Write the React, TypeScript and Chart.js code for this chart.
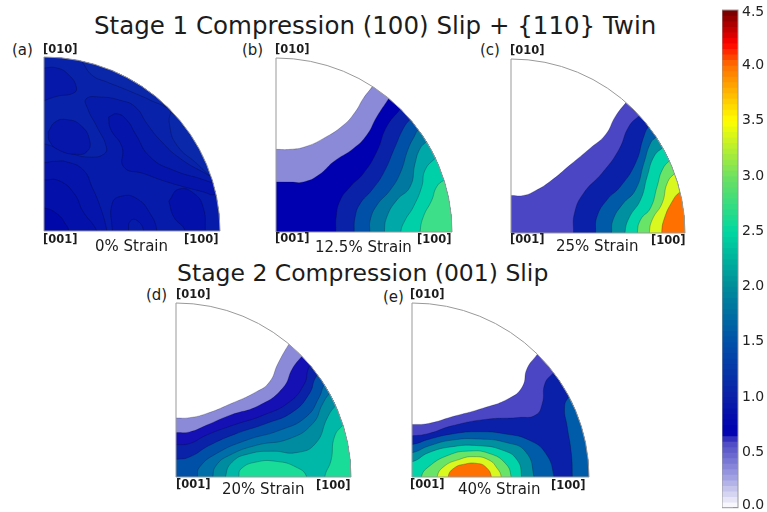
import React, { useEffect, useRef } from "react";
import { Chart, registerables } from "chart.js";

Chart.register(...registerables);

type Pt = [number, number];

const TITLE_1 = "Stage 1 Compression (100) Slip + {110} Twin";
const TITLE_2 = "Stage 2 Compression (001) Slip";
const FONT = '"DejaVu Sans", sans-serif';

// Polygon closures that lie outside the quarter disk
const CLOSE_LOWER_RIGHT: Pt[] = [[130, 130], [130, -30], [-30, -30]];
const CLOSE_LOWER_LEFT: Pt[] = [[130, -30], [-30, -30], [-30, 130]];

// ---- Panel (a) 0% strain
const A_ALL: Pt[] = [[-30, -30], [130, -30], [130, 130], [-30, 130]];
const A_OVAL_EDGE: Pt[] = [[76, 74], [72.2, 68.4], [71.4, 60.7], [75.6, 49.2], [86.9, 38.7], [94.1, 32], [100, 28]];
const A_BAND: Pt[] = [[16, 103], [21.6, 97.1], [27.3, 89.5], [35.8, 85.6], [45.3, 81.8], [56.6, 77], [65.2, 73.2], [72, 72], [130, 130], [20, 130]];
const A_MID: Pt[] = [[100, 28], [93.6, 32], [77.5, 41.6], [66.1, 52.1], [58.5, 61.7], [51.9, 71.3], [43.4, 75.1], [32, 77], [24, 76], [24.8, 70.3], [30.1, 59.8], [35.4, 48.3], [33.9, 44.1], [26.3, 42.5], [16.9, 44.1], [8.3, 47.3], [0, 50.2], [-10, 52], [-30, -30], [130, -30]];
const A_TOP_LEFT: Pt[] = [[-10, 93], [0, 93.7], [7.4, 93.7], [14, 89.8], [18.4, 82.8], [16.9, 79.3], [7.4, 77.4], [0, 74.9], [-10, 72]];
const A_LEFT_OVAL: Pt[] = [[2.3, 56.9], [6.4, 62.7], [13.1, 64], [20.7, 60.9], [25.9, 52.3], [24.4, 45.6], [17.7, 44.1], [8.3, 46.6], [3.2, 51.4], [2.3, 56.9]];
const A_CENTER: Pt[] = [[36.7, 65.5], [41.5, 67.4], [47.2, 63.6], [51.9, 55.9], [60.4, 42.5], [73.7, 34.9], [91.7, 29.1], [100, 25], [97, 21], [90.7, 22.4], [69.9, 28.2], [56.6, 33], [45.3, 36.8], [44.3, 48.3], [37.7, 58.8], [36.7, 65.5]];
const A_CORNER: Pt[] = [[-10, 39.3], [0, 39.3], [5.5, 40], [13.1, 39.7], [22.5, 34.9], [27.3, 25.3], [32, 13.8], [35.8, 0], [37, -10], [-30, -30]];
const A_CORNER_INNER: Pt[] = [[-10, 29.4], [0, 29.4], [9, 28.7], [17.5, 21], [22, 11.5], [30, 0], [32, -10], [-30, -30]];
const A_CORNER_CORE: Pt[] = [[-10, 13.2], [0, 13.2], [7.4, 9.9], [12.1, 4.2], [14, 0], [14, -10], [-30, -30]];
const A_BOTTOM: Pt[] = [[38.7, -10], [38.7, 0], [38.7, 15.7], [44.3, 20.1], [52.8, 18.6], [60.4, 9.9], [64.2, 0], [64.2, -10]];
const A_BOTTOM_CORE: Pt[] = [[48, -10], [48, 0], [49, 5.7], [52.8, 6.1], [56.6, 0], [56.6, -10]];
const A_RIGHT_OVAL: Pt[] = [[70.9, 17.2], [76.6, 24.1], [85.6, 21.3], [90.7, 12.8], [91.7, 0], [91.7, -10], [80.2, -10], [80.2, 0], [73.7, 8.1], [70.9, 17.2]];

// ---- Panel (b) 12.5% strain
const B_1: Pt[] = [[-10, 47.5], [0, 47.5], [8.1, 47.5], [16.6, 49], [27, 53.8], [38.4, 61.5], [45, 69], [49.7, 76.9], [54.8, 83.7], [60, 92]];
const B_2: Pt[] = [[-10, 28.8], [0, 28.8], [8.1, 28.7], [15.7, 28.8], [24.2, 32.7], [32.7, 40.4], [44, 48], [51.6, 55.8], [57.3, 66.3], [63.9, 76.5], [68, 83]];
const B_3: Pt[] = [[34, -10], [34, 0], [34.2, 8.7], [36.5, 18.3], [42.2, 26], [49.7, 33.7], [57.3, 46.2], [62.9, 60.6], [70.5, 70.6], [75, 77]];
const B_4: Pt[] = [[44.4, -10], [44.4, 0], [45, 8.7], [47.8, 16.3], [54.4, 24], [61, 33.7], [67.7, 49], [72.4, 59.6], [76.2, 64.8], [80, 69]];
const B_5: Pt[] = [[53.3, -10], [53.3, 0], [53.5, 6.7], [57.3, 15.4], [64.8, 24], [70.5, 33.7], [75.2, 48], [79, 55.8], [80.2, 58], [85, 63]];
const B_6: Pt[] = [[61.6, -10], [61.6, 0], [63, 8.7], [68.6, 18.3], [76.2, 26], [79, 39.4], [81.9, 48], [85.6, 52], [90, 56]];
const B_7: Pt[] = [[70.9, -10], [70.9, 0], [73.3, 6.7], [78, 14.4], [82.8, 26], [84.7, 35.6], [90.4, 42.3], [96, 47]];
const B_8: Pt[] = [[81.9, -10], [81.9, 0], [83.7, 8.7], [88.5, 18.3], [91.3, 26], [95.5, 29.8], [102, 33]];

// ---- Panel (c) 25% strain
const C_1: Pt[] = [[-10, 21.6], [0, 21.6], [7.3, 21.6], [14, 24.3], [22.6, 29.7], [34.2, 39.3], [45.7, 48.9], [54.3, 56.5], [60, 67], [66.2, 75.1], [71, 81]];
const C_2: Pt[] = [[35.9, -10], [35.9, 0], [36.5, 11.5], [41.8, 23], [52.4, 34.5], [62, 47.9], [67.8, 61.3], [73.9, 67.6], [79, 72]];
const C_3: Pt[] = [[48.6, -10], [48.6, 0], [49.5, 9.6], [55.3, 19.2], [63, 26.8], [71.6, 40.2], [76.4, 55.6], [79.3, 61.3], [84, 65]];
const C_4: Pt[] = [[57.8, -10], [57.8, 0], [58.7, 7.7], [63.9, 16.3], [71.6, 24.9], [76.4, 40.2], [80.2, 51.7], [83.5, 55.2], [88, 59]];
const C_5: Pt[] = [[65.5, -10], [65.5, 0], [67.8, 8.6], [74.5, 19.2], [78.3, 32.6], [82.2, 44], [87.3, 49.2], [92, 53]];
const C_6: Pt[] = [[72.6, -10], [72.6, 0], [74.5, 7.7], [80.2, 14.4], [84, 26.8], [87, 36.4], [91.7, 42.1], [97, 46]];
const C_7: Pt[] = [[79.5, -10], [79.5, 0], [81.2, 7.7], [86.9, 17.2], [89.8, 28.7], [94, 34.1], [100, 38]];
const C_8: Pt[] = [[86.6, -10], [86.6, 0], [87.9, 7.7], [92.7, 18.2], [97.1, 23.6], [103, 27]];

// ---- Panel (d) 20% strain
const D_1: Pt[] = [[-10, 33.9], [0, 33.9], [7.8, 34.1], [17.3, 36.4], [30.6, 41.8], [45.8, 48.9], [53.4, 54.6], [58.2, 65.1], [64.4, 76.2], [69, 83]];
const D_2: Pt[] = [[-10, 25.5], [0, 25.5], [7.8, 25.9], [17.3, 29.7], [30.6, 35.4], [47.7, 41.2], [61, 51.1], [66.7, 62.6], [71.9, 69.3], [77, 75]];
const D_3: Pt[] = [[-10, 18.6], [0, 18.6], [7.8, 19.2], [17.3, 24], [32.5, 29.7], [49.6, 35.4], [64.8, 43.1], [73.4, 53.6], [75.9, 62.9], [80, 68]];
const D_4: Pt[] = [[-10, 10.2], [0, 10.2], [7.8, 11.5], [19.2, 18.2], [34.4, 24.9], [51.5, 30.7], [66.7, 37.4], [76.2, 47.9], [80, 57.5], [85, 62]];
const D_5: Pt[] = [[12.2, -10], [12.2, 0], [13.5, 5.7], [23, 13.4], [40.1, 21.1], [59.1, 26.8], [74.3, 34.5], [81.9, 46], [84.8, 53.3], [89, 57]];
const D_6: Pt[] = [[21.1, -10], [21.1, 0], [23, 6.7], [30.6, 12.5], [45.8, 18.2], [64.8, 22], [78.1, 30.7], [83.8, 42.1], [87.6, 47.9], [92, 52]];
const D_7: Pt[] = [[28.3, -10], [28.3, 0], [32.1, 8.6], [42, 13.4], [55.5, 14.8], [68.7, 14], [79.7, 19.2], [86.7, 34.5], [90.9, 40.6], [96, 45]];
const D_8A: Pt[] = [[35.9, -10], [35.9, 0], [37.3, 4.8], [45.8, 8.6], [57.2, 9], [68.6, 5.7], [74.7, 0], [74.7, -10]];
const D_8B: Pt[] = [[85, -10], [85, 0], [88.6, 9.6], [90.5, 23], [95.2, 29.7], [101, 35]];

// ---- Panel (e) 40% strain
const E_1: Pt[] = [[-10, 30.2], [0, 30.2], [9.4, 30.8], [22.6, 34.6], [39.6, 39.4], [54.7, 45.1], [62.3, 51.8], [65, 62.3], [70.8, 70.6], [75, 77]];
const E_2: Pt[] = [[-10, 23.7], [0, 23.7], [9.4, 25], [22.6, 29.4], [41.5, 33.1], [60.4, 34.2], [69.8, 35.6], [73.6, 42.3], [75.1, 53.7], [79.8, 59.8], [85, 65]];
const E_3A: Pt[] = [[-10, 18.7], [0, 18.7], [9.4, 21.6], [22.6, 24.7], [37.7, 26], [52.8, 24.7], [66, 21.2], [75.5, 13.6], [80.2, 0], [80.2, -10]];
const E_3B: Pt[] = [[90.6, -10], [90.6, 0], [90, 13.6], [87.7, 28.9], [86.2, 40.3], [88.7, 46.1], [93, 50]];
const E_4: Pt[] = [[-10, 14], [0, 14], [9.4, 17.8], [22.6, 21.2], [37.7, 21.8], [52.8, 19.9], [64.2, 14.5], [68.9, 0], [68.9, -10]];
const E_5: Pt[] = [[-10, 8.8], [0, 8.8], [9.4, 14], [22.6, 17.4], [37.7, 18], [50.9, 15.5], [59.4, 9.8], [61.9, 0], [61.9, -10]];
const E_6: Pt[] = [[5.3, -10], [5.3, 0], [9.4, 5.9], [20.8, 12.6], [32.1, 14.9], [43.4, 13.6], [52.8, 7.8], [56, 0], [56, -10]];
const E_7: Pt[] = [[14.2, -10], [14.2, 0], [17.9, 5.9], [26.4, 10], [34.9, 11.7], [43.4, 9.8], [48.1, 5], [50.4, 0], [50.4, -10]];
const E_8: Pt[] = [[20.4, -10], [20.4, 0], [23.6, 5], [30.2, 7.5], [36.8, 7.8], [41.5, 5.9], [44.9, 0], [44.9, -10]];

const right = (c: Pt[]): Pt[] => [...c, ...CLOSE_LOWER_RIGHT];
const lowerLeft = (c: Pt[]): Pt[] => [...c, ...CLOSE_LOWER_LEFT];
const belowLeft = (c: Pt[]): Pt[] => [...c, [-30, -30]];

type Region = { pts: Pt[]; color: string };
type Panel = {
  tag: string; strain: string; left: number; bottom: number; rx: number; ry: number;
  tagXY: Pt; top010: Pt; bl001: Pt; br100: Pt; strainXY: Pt; regions: Region[];
};

const PANELS: Panel[] = [
  {
    tag: "(a)", strain: "0% Strain", left: 43.5, bottom: 231, rx: 176, ry: 174,
    tagXY: [12, 50], top010: [43, 50], bl001: [43, 240], br100: [184, 240], strainXY: [95, 246],
    regions: [
      { pts: A_ALL, color: "#0a29aa" },
      { pts: lowerLeft(A_OVAL_EDGE), color: "#0922aa" },
      { pts: A_BAND, color: "#0a27aa" },
      { pts: A_MID, color: "#071baa" },
      { pts: A_TOP_LEFT, color: "#0618aa" },
      { pts: A_LEFT_OVAL, color: "#0616aa" },
      { pts: A_CENTER, color: "#0514aa" },
      { pts: A_CORNER, color: "#0514aa" },
      { pts: A_CORNER_INNER, color: "#0310aa" },
      { pts: A_CORNER_CORE, color: "#0108aa" },
      { pts: A_BOTTOM, color: "#0514aa" },
      { pts: A_BOTTOM_CORE, color: "#071baa" },
      { pts: A_RIGHT_OVAL, color: "#0310aa" },
    ],
  },
  {
    tag: "(b)", strain: "12.5% Strain", left: 275.7, bottom: 231.7, rx: 176.3, ry: 173.7,
    tagXY: [242, 50], top010: [275, 50], bl001: [275, 239], br100: [417, 240], strainXY: [315, 247],
    regions: [
      { pts: right(B_1), color: "#8a8ad8" },
      { pts: right(B_2), color: "#0000b0" },
      { pts: right(B_3), color: "#0a22a8" },
      { pts: right(B_4), color: "#0050a8" },
      { pts: right(B_5), color: "#0078a0" },
      { pts: right(B_6), color: "#00a8a8" },
      { pts: right(B_7), color: "#00d0a8" },
      { pts: right(B_8), color: "#3de088" },
    ],
  },
  {
    tag: "(c)", strain: "25% Strain", left: 510.7, bottom: 233.3, rx: 173.6, ry: 174,
    tagXY: [480, 50], top010: [510, 51], bl001: [510, 240], br100: [651, 241], strainXY: [556, 246],
    regions: [
      { pts: right(C_1), color: "#4a46c4" },
      { pts: right(C_2), color: "#0a20a8" },
      { pts: right(C_3), color: "#005aa8" },
      { pts: right(C_4), color: "#0090a0" },
      { pts: right(C_5), color: "#00d4a8" },
      { pts: right(C_6), color: "#68e468" },
      { pts: right(C_7), color: "#d8f820" },
      { pts: right(C_8), color: "#ff7000" },
    ],
  },
  {
    tag: "(d)", strain: "20% Strain", left: 176.3, bottom: 476.7, rx: 175.4, ry: 174,
    tagXY: [146, 295], top010: [176, 295], bl001: [176, 485], br100: [316, 486], strainXY: [222, 489],
    regions: [
      { pts: right(D_1), color: "#8a8ad8" },
      { pts: right(D_2), color: "#1410b4" },
      { pts: right(D_3), color: "#0a22a8" },
      { pts: right(D_4), color: "#0050a8" },
      { pts: right(D_5), color: "#006ea8" },
      { pts: right(D_6), color: "#008ca0" },
      { pts: right(D_7), color: "#00b8a8" },
      { pts: D_8A, color: "#18dc98" },
      { pts: right(D_8B), color: "#18dc98" },
    ],
  },
  {
    tag: "(e)", strain: "40% Strain", left: 411.7, bottom: 477, rx: 176.6, ry: 174.3,
    tagXY: [383, 297], top010: [410, 295], bl001: [410, 485], br100: [551, 486], strainXY: [458, 489],
    regions: [
      { pts: right(E_1), color: "#4a46c4" },
      { pts: right(E_2), color: "#0a20a8" },
      { pts: belowLeft(E_3A), color: "#005ca8" },
      { pts: right(E_3B), color: "#005ca8" },
      { pts: belowLeft(E_4), color: "#0090a0" },
      { pts: belowLeft(E_5), color: "#00d4a8" },
      { pts: E_6, color: "#68e468" },
      { pts: E_7, color: "#d8f820" },
      { pts: E_8, color: "#ff7000" },
    ],
  },
];

// ---- Colour bar
const BAR_LEVELS = [
  0.0, 0.05, 0.1, 0.15, 0.2, 0.25, 0.3, 0.35, 0.4, 0.45, 0.5, 0.55, 0.6, 0.65, 0.7, 0.75, 0.8, 0.85, 0.9, 0.95,
  1.0, 1.05, 1.1, 1.15, 1.2, 1.25, 1.3, 1.35, 1.4, 1.45, 1.5, 1.55, 1.6, 1.65, 1.7, 1.75, 1.8, 1.85, 1.9, 1.95,
  2.0, 2.05, 2.1, 2.15, 2.2, 2.25, 2.3, 2.35, 2.4, 2.45, 2.5, 2.55, 2.6, 2.65, 2.7, 2.75, 2.8, 2.85, 2.9, 2.95,
  3.0, 3.05, 3.1, 3.15, 3.2, 3.25, 3.3, 3.35, 3.4, 3.45, 3.5, 3.55, 3.6, 3.65, 3.7, 3.75, 3.8, 3.85, 3.9, 3.95,
  4.0, 4.05, 4.1, 4.15, 4.2, 4.25, 4.3, 4.35, 4.4, 4.45,
];
const BAR_MAX = 4.5;
const BAR_STOPS: [number, number, number, number][] = [
  [0, 255, 255, 255], [0.3, 154, 154, 224], [0.6, 74, 70, 196], [0.68, 0, 0, 176], [1.0, 10, 31, 168],
  [1.5, 0, 80, 168], [2.0, 0, 140, 154], [2.5, 0, 216, 160], [3.0, 112, 224, 96], [3.5, 255, 255, 0],
  [4.0, 255, 112, 0], [4.2, 255, 0, 0], [4.5, 112, 0, 0],
];
const barColor = (v: number) => {
  for (let i = 1; i < BAR_STOPS.length; i++) {
    const a = BAR_STOPS[i - 1], b = BAR_STOPS[i];
    if (v <= b[0]) {
      const t = (v - a[0]) / (b[0] - a[0]);
      const m = (k: number) => Math.round(a[k] + (b[k] - a[k]) * t);
      return `rgb(${m(1)},${m(2)},${m(3)})`;
    }
  }
  return "rgb(112,0,0)";
};

const diskPath = (chart: any) => {
  const { ctx, scales } = chart;
  const cx = scales.x.getPixelForValue(0), cy = scales.y.getPixelForValue(0);
  const rx = scales.x.getPixelForValue(100) - cx, ry = cy - scales.y.getPixelForValue(100);
  ctx.beginPath();
  ctx.moveTo(cx, cy);
  ctx.lineTo(cx, cy - ry);
  ctx.ellipse(cx, cy, rx, ry, 0, -Math.PI / 2, 0);
  ctx.closePath();
};

const quarterDisk = {
  id: "quarterDisk",
  beforeDatasetsDraw(chart: any) {
    chart.ctx.save();
    diskPath(chart);
    chart.ctx.clip();
  },
  afterDatasetsDraw(chart: any) {
    const { ctx } = chart;
    ctx.restore();
    ctx.save();
    diskPath(chart);
    ctx.strokeStyle = "#999999";
    ctx.lineWidth = 1;
    ctx.stroke();
    ctx.restore();
  },
};

const barFrame = {
  id: "barFrame",
  afterDatasetsDraw(chart: any) {
    const { ctx, chartArea: a } = chart;
    ctx.save();
    ctx.strokeStyle = "#999999";
    ctx.lineWidth = 1;
    ctx.strokeRect(a.left, a.top, a.right - a.left, a.bottom - a.top);
    ctx.restore();
  },
};

const PAD = 3;

function PanelChart({ p }: { p: Panel }) {
  const ref = useRef<HTMLCanvasElement>(null);
  useEffect(() => {
    const n = p.regions.length;
    const chart = new Chart(ref.current!, {
      type: "scatter",
      data: {
        datasets: p.regions.map((r, i) => ({
          data: r.pts.map(([x, y]) => ({ x, y })),
          showLine: true,
          fill: "shape",
          backgroundColor: r.color,
          borderColor: "rgba(0,0,30,0.35)",
          borderWidth: 0.7,
          tension: 0.5,
          pointRadius: 0,
          order: n - i,
        })),
      } as any,
      options: {
        animation: false,
        responsive: false,
        events: [],
        layout: { padding: PAD },
        elements: { line: { capBezierPoints: false } },
        plugins: { legend: { display: false }, tooltip: { enabled: false } },
        scales: {
          x: { type: "linear", min: 0, max: 100, display: false },
          y: { type: "linear", min: 0, max: 100, display: false },
        },
      },
      plugins: [quarterDisk],
    });
    return () => chart.destroy();
  }, [p]);
  return (
    <canvas
      ref={ref}
      width={Math.round(p.rx + PAD * 2)}
      height={Math.round(p.ry + PAD * 2)}
      style={{ position: "absolute", left: p.left - PAD, top: p.bottom - p.ry - PAD }}
    />
  );
}

function ColorBar() {
  const ref = useRef<HTMLCanvasElement>(null);
  useEffect(() => {
    const n = BAR_LEVELS.length;
    const chart = new Chart(ref.current!, {
      type: "bar",
      data: {
        labels: ["KAM"],
        datasets: BAR_LEVELS.map((lo, i) => ({
          data: [[lo, BAR_MAX]],
          backgroundColor: barColor(lo + 0.025),
          borderWidth: 0,
          grouped: false,
          barPercentage: 1,
          categoryPercentage: 1,
          order: n - i,
        })),
      } as any,
      options: {
        animation: false,
        responsive: false,
        events: [],
        layout: { padding: { left: 0, right: 0, top: 10, bottom: 4.3 } },
        plugins: { legend: { display: false }, tooltip: { enabled: false } },
        scales: {
          x: { display: false },
          y: {
            type: "linear",
            position: "right",
            min: 0,
            max: BAR_MAX,
            afterFit: (s: any) => { s.width = 29; s.paddingTop = 0; s.paddingBottom = 0; },
            border: { display: false },
            grid: { drawOnChartArea: false, tickLength: -5, color: "#555555" },
            ticks: {
              stepSize: 0.5,
              padding: 9,
              autoSkip: false,
              color: "#222222",
              font: { family: FONT, size: 14, lineHeight: 0.39 },
              // the end labels sit just inside the bar's ends: a blank line nudges them
              callback: (v: any) => {
                const s = Number(v).toFixed(1);
                return Number(v) === 0 ? [s, ""] : Number(v) === BAR_MAX ? ["", s] : s;
              },
            },
          },
        },
      },
      plugins: [barFrame],
    });
    return () => chart.destroy();
  }, []);
  return <canvas ref={ref} width={45} height={512} style={{ position: "absolute", left: 722, top: 0 }} />;
}

function Txt({ xy, text, size, bold, color }: { xy: Pt; text: string; size: number; bold?: boolean; color?: string }) {
  return (
    <div
      style={{
        position: "absolute", left: xy[0], top: xy[1], transform: "translateY(-50%)", whiteSpace: "nowrap",
        fontFamily: FONT, fontSize: size, fontWeight: bold ? 700 : 400, color: color ?? "#1c1c1c", lineHeight: 1,
      }}
    >
      {text}
    </div>
  );
}

export default function App() {
  return (
    <div style={{ position: "fixed", left: 0, top: 0, width: 767, height: 512, overflow: "hidden", background: "#fff", filter: "blur(0.35px)" }}>
      {PANELS.map((p) => <PanelChart key={p.tag} p={p} />)}
      <ColorBar />
      <Txt xy={[94, 26]} text={TITLE_1} size={24.5} />
      <Txt xy={[177, 274]} text={TITLE_2} size={23.5} />
      {PANELS.map((p) => (
        <React.Fragment key={p.tag}>
          <Txt xy={p.tagXY} text={p.tag} size={15} />
          <Txt xy={p.top010} text="[010]" size={11.5} bold />
          <Txt xy={p.bl001} text="[001]" size={11.5} bold />
          <Txt xy={p.br100} text="[100]" size={11.5} bold />
          <Txt xy={p.strainXY} text={p.strain} size={15} />
        </React.Fragment>
      ))}
    </div>
  );
}
